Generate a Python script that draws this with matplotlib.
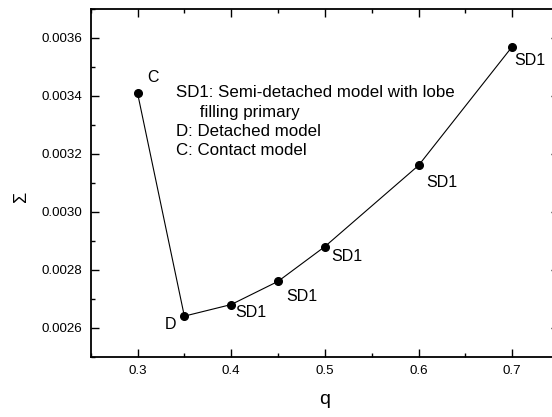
import matplotlib
matplotlib.use("Agg")
import matplotlib.pyplot as plt
from matplotlib.ticker import MultipleLocator

plt.rcParams['font.family'] = ['Liberation Sans', 'DejaVu Sans']

# data
q = [0.30, 0.35, 0.40, 0.45, 0.50, 0.60, 0.70]
sigma = [0.00341, 0.00264, 0.00268, 0.00276, 0.00288, 0.00316, 0.00357]
labels = ['C', 'D', 'SD1', 'SD1', 'SD1', 'SD1', 'SD1']
# label offsets in points
offsets = [(11, 11), (-10, -6), (14, -6), (17, -11), (16, -7), (17, -12), (13, -10)]

legend_text = ("SD1: Semi-detached model with lobe\n"
               "     filling primary\n"
               "D: Detached model\n"
               "C: Contact model")

fig = plt.figure(figsize=(5.52, 4.17), dpi=100)
ax = fig.add_axes([0.1643, 0.1446, 0.8484, 0.8338])

ax.plot(q, sigma, '-', color='black', lw=0.8, zorder=2)
ax.plot(q, sigma, 'o', color='black', ms=5.5, zorder=3)

for x, y, lab, off in zip(q, sigma, labels, offsets):
    ax.annotate(lab, (x, y), xytext=off, textcoords='offset points',
                ha='center', va='center', fontsize=11.5)

ax.text(0.341, 0.003437, legend_text, fontsize=12.2, va='top', ha='left',
        linespacing=1.36)

ax.set_xlim(0.25, 0.75)
ax.set_ylim(0.0025, 0.0037)
ax.xaxis.set_major_locator(MultipleLocator(0.1))
ax.xaxis.set_minor_locator(MultipleLocator(0.05))
ax.yaxis.set_major_locator(MultipleLocator(0.0002))
ax.yaxis.set_minor_locator(MultipleLocator(0.0001))
ax.yaxis.set_major_formatter(matplotlib.ticker.FormatStrFormatter('%.4f'))

ax.tick_params(which='both', direction='in', top=True, right=True, labelsize=9.6, width=1)
ax.tick_params(which='major', length=6, pad=6)
ax.tick_params(which='minor', length=3)
for s in ax.spines.values():
    s.set_linewidth(1.3)

ax.set_xlabel('q', fontsize=14)
ax.set_ylabel('Σ', fontsize=13)
ax.xaxis.set_label_coords(0.5, -0.10, transform=ax.transAxes)
ax.yaxis.set_label_coords(-0.13, 0.46)

fig.savefig('out.png', dpi=100)
